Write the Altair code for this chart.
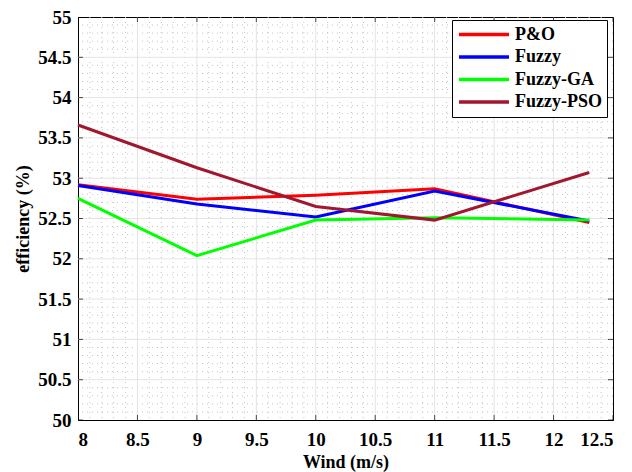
import altair as alt
import pandas as pd

wind = [8, 9, 10, 11, 12.3]
po = [52.92, 52.74, 52.79, 52.87, 52.45]
fuzzy = [52.91, 52.68, 52.52, 52.84, 52.47]
fuzzy_ga = [52.75, 52.04, 52.48, 52.51, 52.48]
fuzzy_pso = [53.66, 53.13, 52.65, 52.48, 53.07]
series_names = ["P&O", "Fuzzy", "Fuzzy-GA", "Fuzzy-PSO"]
series_colors = ["#ff0000", "#0000ff", "#00ff00", "#a0182e"]

x_ticks = [8, 8.5, 9, 9.5, 10, 10.5, 11, 11.5, 12, 12.5]
y_ticks = [50, 50.5, 51, 51.5, 52, 52.5, 53, 53.5, 54, 54.5, 55]

rows = []
for name, vals in zip(series_names, [po, fuzzy, fuzzy_ga, fuzzy_pso]):
    for w, v in zip(wind, vals):
        rows.append({"wind": w, "eff": v, "series": name})
df = pd.DataFrame(rows)

xminor = pd.DataFrame({"v": [round(8 + 0.1 * i, 2) for i in range(46) if i % 5 != 0]})
yminor = pd.DataFrame({"v": [round(50 + 0.1 * i, 2) for i in range(51) if i % 5 != 0]})
xmajor = pd.DataFrame({"v": x_ticks[1:-1]})
ymajor = pd.DataFrame({"v": y_ticks[1:-1]})

W, H = 535, 403
xs = alt.Scale(domain=[8, 12.5], nice=False, zero=False)
ys = alt.Scale(domain=[50, 55], nice=False, zero=False)
FONT = "Liberation Serif"

axis_style = dict(
    labelFont=FONT, labelFontSize=19, labelFontWeight="bold", labelColor="black",
    titleFont=FONT, titleFontSize=18, titleFontWeight="bold", titleColor="black",
    domainColor="black", ticks=False, grid=False, format="~g",
)
xaxis = alt.Axis(values=x_ticks, labelPadding=10, titlePadding=4, **axis_style)
yaxis = alt.Axis(values=y_ticks, labelPadding=7, titlePadding=5, **axis_style)

def X(f):
    return alt.X(f, scale=xs, axis=xaxis, title="Wind (m/s)")

def Y(f):
    return alt.Y(f, scale=ys, axis=yaxis, title="efficiency (%)")

xminor_l = alt.Chart(xminor).mark_rule(color="#c4c4c4", strokeDash=[1, 4], strokeWidth=1).encode(x=X("v:Q"))
yminor_l = alt.Chart(yminor).mark_rule(color="#c4c4c4", strokeDash=[1, 4], strokeWidth=1).encode(y=Y("v:Q"))
xmajor_l = alt.Chart(xmajor).mark_rule(color="#e4e4e4", strokeWidth=1).encode(x=X("v:Q"))
ymajor_l = alt.Chart(ymajor).mark_rule(color="#e4e4e4", strokeWidth=1).encode(y=Y("v:Q"))

xt = pd.DataFrame({"v": x_ticks})
yt = pd.DataFrame({"v": y_ticks})
tick_b = alt.Chart(xt).mark_tick(color="black", size=10, thickness=1, clip=True, orient="vertical").encode(
    x=X("v:Q"), y=alt.value(H))
tick_t = alt.Chart(xt).mark_tick(color="black", size=10, thickness=1, clip=True, orient="vertical").encode(
    x=X("v:Q"), y=alt.value(0))
tick_l = alt.Chart(yt).mark_tick(color="black", size=10, thickness=1, clip=True, orient="horizontal").encode(
    y=Y("v:Q"), x=alt.value(0))
tick_r = alt.Chart(yt).mark_tick(color="black", size=10, thickness=1, clip=True, orient="horizontal").encode(
    y=Y("v:Q"), x=alt.value(W))

lines = alt.Chart(df).mark_line(strokeWidth=3).encode(
    x=X("wind:Q"),
    y=Y("eff:Q"),
    color=alt.Color("series:N", scale=alt.Scale(domain=series_names, range=series_colors),
                    sort=series_names,
                    legend=alt.Legend(title=None, orient="none", legendX=374, legendY=3,
                                      symbolType="stroke", symbolSize=2500, symbolStrokeWidth=3.5,
                                      clipHeight=19,
                                      labelFont=FONT, labelFontSize=18, labelFontWeight="bold",
                                      labelColor="black", rowPadding=3.5, labelOffset=4,
                                      strokeColor="black", fillColor="white",
                                      padding=5, labelLimit=200)),
    order=alt.Order("wind:Q"),
    detail="series:N",
)

chart = alt.layer(xminor_l, yminor_l, xmajor_l, ymajor_l, tick_b, tick_t, tick_l, tick_r, lines).properties(
    width=W, height=H,
    autosize=alt.AutoSizeParams(type="none"),
    padding={"left": 70, "top": 9, "right": 11, "bottom": 52},
    background="white",
).configure_view(stroke="black", strokeWidth=1)

chart.save("out.html", embed_options={"renderer": "svg", "actions": False})
